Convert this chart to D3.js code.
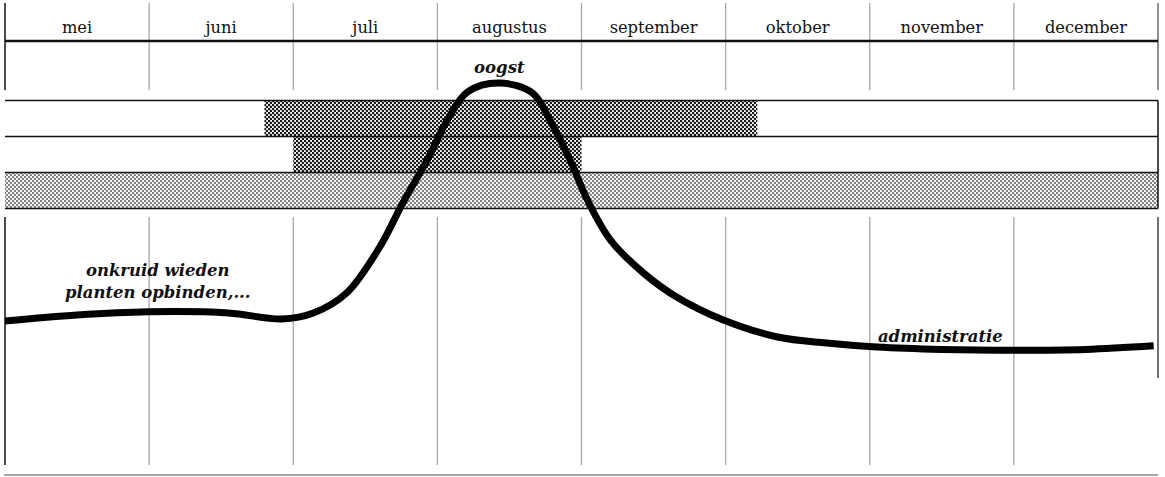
<!DOCTYPE html>
<html>
<head>
<meta charset="utf-8">
<script src="https://cdn.jsdelivr.net/npm/d3@7"></script>
<style>
  html, body { margin: 0; padding: 0; background: #fff; }
  svg { display: block; }
</style>
</head>
<body>
<svg id="chart" width="1165" height="477"></svg>
<script>
// Months of the season (one column each)
const months = ["mei", "juni", "juli", "augustus", "september", "oktober", "november", "december"];

// Activity periods, in months from the start of May
const periodStart = [1.8, 2.0, 0];
const periodEnd   = [5.22, 4.0, 8];
const periodShade = ["dark", "dark", "light"];

// Workload over the season (month position, level 0–100)
const workloadMonth = [0, 0.5, 1.0, 1.55, 1.92, 2.14, 2.37, 2.6, 2.76, 2.93, 3.07, 3.21, 3.43, 3.66, 3.78, 3.92, 4.04, 4.2, 4.43, 4.66, 4.98, 5.36, 5.7, 6.05, 6.5, 7.0, 7.5, 7.97];
const workloadLevel = [36, 37.5, 38.3, 38, 36.5, 38, 43, 54.5, 65.5, 76.3, 86.3, 93.3, 95.5, 93, 86.3, 76.3, 66.3, 56.3, 48, 42, 36.3, 32, 30.5, 29.5, 28.9, 28.7, 28.9, 29.8];

// Text annotations (month position, level)
const noteText  = ["oogst", "onkruid wieden", "planten opbinden,...", "administratie"];
const noteMonth = [3.43, 1.06, 1.06, 6.49];
const noteLevel = [98, 47.2, 41.7, 30.7];

const svg = d3.select("#chart");

const x = d3.scaleLinear().domain([0, months.length]).range([5, 1158]);
const y = d3.scaleLinear().domain([0, 100]).range([465, 65]);
const row = d3.scaleBand().domain(d3.range(periodStart.length)).range([100.5, 208.5]);

// Halftone dot patterns
const defs = svg.append("defs");
function dots(id, color, r) {
  const p = defs.append("pattern").attr("id", id)
    .attr("patternUnits", "userSpaceOnUse").attr("width", 4).attr("height", 4);
  p.append("rect").attr("width", 4).attr("height", 4).attr("fill", "#fff");
  p.append("circle").attr("cx", 1).attr("cy", 1).attr("r", r).attr("fill", color);
  p.append("circle").attr("cx", 3).attr("cy", 3).attr("r", r).attr("fill", color);
}
dots("dark", "#1a1a1a", 1.3);
dots("light", "#808080", 1.25);

// Column dividers: upper (header) block and lower (workload) block
const edges = d3.range(months.length + 1);
const grid = svg.append("g");
[[3, 90], [217, 465]].forEach(([y0, y1]) => {
  grid.selectAll(null).data(edges.slice(1, -1)).join("line")
    .attr("x1", d => x(d)).attr("x2", d => x(d))
    .attr("y1", y0).attr("y2", y1)
    .attr("stroke", "#a8a8a8").attr("stroke-width", 1.3);
});
// Outer edges
grid.append("line").attr("x1", x(0)).attr("x2", x(0)).attr("y1", 3).attr("y2", 90)
  .attr("stroke", "#111").attr("stroke-width", 1.5);
grid.append("line").attr("x1", x(0)).attr("x2", x(0)).attr("y1", 217).attr("y2", 465)
  .attr("stroke", "#111").attr("stroke-width", 1.5);
grid.append("line").attr("x1", x(8)).attr("x2", x(8)).attr("y1", 3).attr("y2", 90)
  .attr("stroke", "#555").attr("stroke-width", 1.3);
grid.append("line").attr("x1", x(8)).attr("x2", x(8)).attr("y1", 217).attr("y2", 378)
  .attr("stroke", "#444").attr("stroke-width", 1.5);

// Header rule and month names
svg.append("line").attr("x1", x(0)).attr("x2", x(8)).attr("y1", 41).attr("y2", 41)
  .attr("stroke", "#111").attr("stroke-width", 2.4);
svg.append("g").selectAll("text").data(months).join("text")
  .attr("x", (d, i) => x(i + 0.5)).attr("y", 33)
  .attr("text-anchor", "middle")
  .attr("font-family", "'DejaVu Serif', serif")
  .attr("font-size", 16.3)
  .attr("fill", "#111")
  .text(d => d);

// Bottom rule
svg.append("line").attr("x1", 4).attr("x2", x(8)).attr("y1", 475).attr("y2", 475)
  .attr("stroke", "#888").attr("stroke-width", 1.5);

// Activity bands
const bands = svg.append("g");
bands.selectAll("rect").data(d3.range(periodStart.length)).join("rect")
  .attr("x", i => x(periodStart[i]))
  .attr("y", i => row(i))
  .attr("width", i => x(periodEnd[i]) - x(periodStart[i]))
  .attr("height", row.bandwidth())
  .attr("fill", i => `url(#${periodShade[i]})`);
const rowEdges = [row(0), row(1), row(2), row(2) + row.bandwidth()];
bands.selectAll("line.h").data(rowEdges).join("line").attr("class", "h")
  .attr("x1", x(0)).attr("x2", x(8))
  .attr("y1", d => d).attr("y2", d => d)
  .attr("stroke", "#111").attr("stroke-width", 1.5);
bands.append("line").attr("x1", x(8)).attr("x2", x(8))
  .attr("y1", rowEdges[0]).attr("y2", rowEdges[3])
  .attr("stroke", "#111").attr("stroke-width", 1.5);

// Workload curve
const line = d3.line()
  .x(i => x(workloadMonth[i]))
  .y(i => y(workloadLevel[i]))
  .curve(d3.curveCatmullRom.alpha(0.5));
svg.append("path")
  .attr("d", line(d3.range(workloadMonth.length)))
  .attr("fill", "none").attr("stroke", "#000")
  .attr("stroke-width", 7).attr("stroke-linecap", "butt");

// Annotations
svg.append("g").selectAll("text").data(noteText).join("text")
  .attr("x", (d, i) => x(noteMonth[i])).attr("y", (d, i) => y(noteLevel[i]))
  .attr("text-anchor", "middle")
  .attr("font-family", "'DejaVu Serif', serif")
  .attr("font-style", "italic").attr("font-weight", "bold")
  .attr("font-size", 16.5)
  .attr("fill", "#111")
  .text(d => d);
</script>
</body>
</html>
